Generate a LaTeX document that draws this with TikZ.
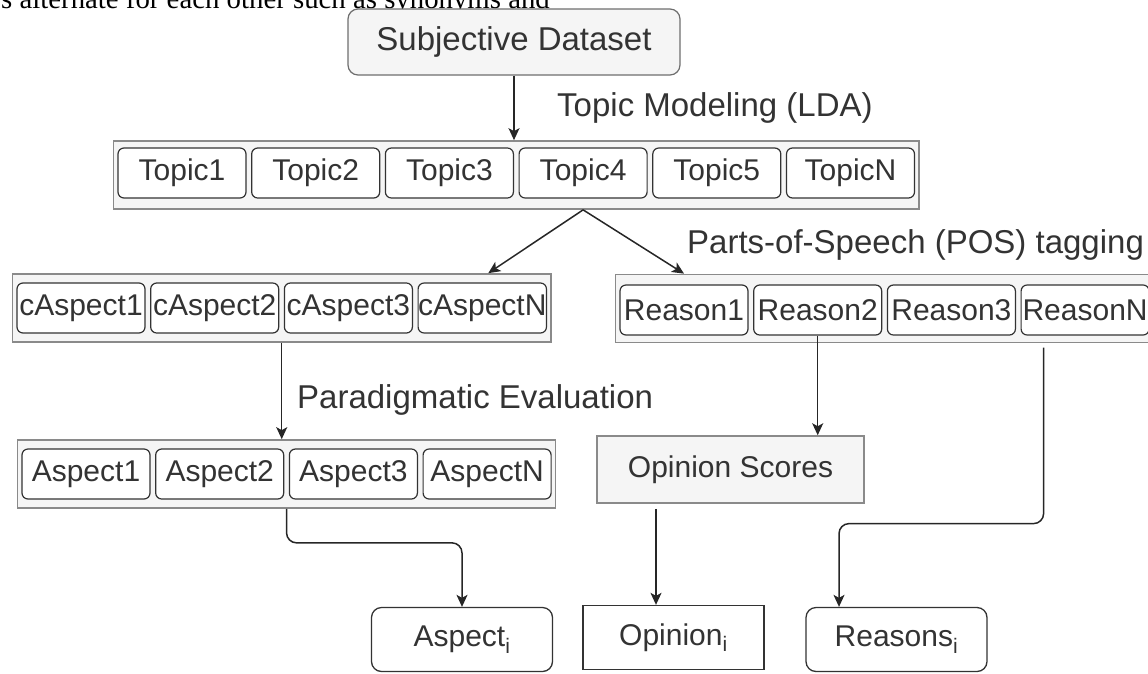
\documentclass[tikz,border=0pt]{standalone}
\usepackage{fontspec}
\setmainfont{Liberation Sans}
\newfontfamily\pagefont{Liberation Serif}
\usetikzlibrary{arrows.meta,positioning,fit,backgrounds}
\definecolor{ink}{HTML}{333333}
\definecolor{panel}{HTML}{F5F5F5}
\definecolor{rim}{HTML}{8A8A8A}

\begin{document}
\begin{tikzpicture}[
  x=1pt,y=-1pt,
  node distance=4.5pt,
  cell/.style={draw=ink,fill=white,rounded corners=6pt,line width=1.2pt,minimum width=128pt,minimum height=50pt,inner sep=0pt,text=ink,font=\fontsize{30}{32}\selectfont},
  group/.style={draw=rim,fill=panel,line width=1.5pt,inner xsep=4pt,inner ysep=8.5pt},
  source/.style={draw=rim!80!black,fill=panel,rounded corners=10pt,line width=1.2pt,minimum width=332pt,minimum height=66pt,text=ink,font=\fontsize{33}{36}\selectfont},
  score/.style={draw=rim,fill=panel,line width=1.5pt,minimum width=267pt,minimum height=67pt,text=ink,font=\fontsize{30}{32}\selectfont},
  result/.style={draw=ink,fill=white,line width=1.3pt,minimum width=181pt,minimum height=64pt,text=ink,font=\fontsize{30}{32}\selectfont},
  flow/.style={-{Stealth[length=12pt,width=11pt,inset=3pt]},line width=1.5pt,black!85},
  edge label/.style={anchor=base west,inner sep=0pt,text=ink,font=\fontsize{33}{36}\selectfont}
]
\useasboundingbox (0,0) rectangle (1148,673);

% page text cut off above the figure
\node[anchor=base west,inner sep=0pt,font=\pagefont\fontsize{28.8}{31}\selectfont] (frag) at (1,8) {s alternate for each other such as synonyms and};

\node[source] (src) at (514,42) {Subjective Dataset};

% topics
\node[cell] (t1) at (182,173) {Topic1};
\node[cell,right=of t1] (t2) {Topic2};
\node[cell,right=of t2] (t3) {Topic3};
\node[cell,right=of t3] (t4) {Topic4};
\node[cell,right=of t4] (t5) {Topic5};
\node[cell,right=of t5] (tN) {TopicN};

% candidate aspects and reasons
\node[cell] (ca1) at (81,308) {cAspect1};
\node[cell,right=of ca1] (ca2) {cAspect2};
\node[cell,right=of ca2] (ca3) {cAspect3};
\node[cell,right=of ca3] (caN) {cAspectN};
\node[cell] (r1) at (684,310) {Reason1};
\node[cell,right=of r1] (r2) {Reason2};
\node[cell,right=of r2] (r3) {Reason3};
\node[cell,right=of r3] (rN) {ReasonN};

% aspects
\node[cell] (a1) at (86,474) {Aspect1};
\node[cell,right=of a1] (a2) {Aspect2};
\node[cell,right=of a2] (a3) {Aspect3};
\node[cell,right=of a3] (aN) {AspectN};

\begin{scope}[on background layer]
\node[group,fit=(t1)(tN),yshift=-2pt] (topics) {};
\node[group,fit=(ca1)(caN)] (caspects) {};
\node[group,fit=(r1)(rN),yshift=1.5pt] (reasons) {};
\node[group,fit=(a1)(aN)] (aspects) {};
\end{scope}

\node[score] (opsc) at (730.5,469.5) {Opinion Scores};
\node[result,rounded corners=10pt] (aspi) at (462,639.5) {Aspect\textsubscript{i}};
\node[result] (opi) at (673.5,637.5) {Opinion\textsubscript{i}};
\node[result,rounded corners=10pt] (reai) at (896.5,639.5) {Reasons\textsubscript{i}};

\draw[flow] (src.south) -- (src.south |- topics.north);
\node[edge label] (lda) at (557,116) {Topic Modeling (LDA)};
\draw[flow] (t4.south |- topics.south) -- ([xshift=6pt]caN.north |- caspects.north);
\draw[flow] (t4.south |- topics.south) -- (r1.north |- reasons.north);
\node[edge label] (pos) at (687,253) {Parts-of-Speech (POS) tagging};
\draw[flow] (caspects.south) -- (caspects.south |- aspects.north);
\node[edge label] (pe) at (297,408) {Paradigmatic Evaluation};
\draw[flow,rounded corners=10pt] (aspects.south) -- ++(0,34) -| (aspi.north);
\draw[flow] (r2.south) -- (r2.south |- opsc.north);
\draw[flow] ([xshift=-17.5pt,yshift=-5pt]opi.north |- opsc.south) -- ([xshift=-17.5pt]opi.north);
\draw[flow,rounded corners=10pt] ([xshift=-41.5pt,yshift=-12pt]rN.south) -- ++(0,176) -| ([xshift=-57.5pt]reai.north);
\end{tikzpicture}
\end{document}
